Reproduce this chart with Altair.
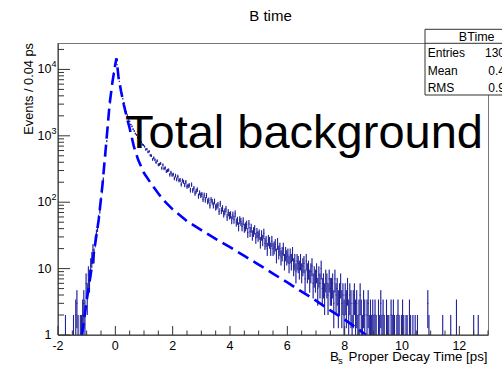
import math
import altair as alt
import pandas as pd

# ---------------- data ----------------
BIN_START = -2.0
BIN_WIDTH = 0.04   # "Events / 0.04 ps"

# bins centred -1.98 ... 0.98
counts_rise = [0, 0, 0, 0, 0, 0, 1, 0, 0, 0,
               0, 0, 0, 1, 0, 2, 3, 1, 0, 1,
               1, 2, 3, 2, 6, 4, 8, 7, 11, 14,
               19, 16, 26, 33, 42, 57, 76, 108, 148, 221,
               326, 514, 832, 1344, 2093, 3126, 4581, 6612, 8874, 11035,
               12580, 11764, 8391, 6624, 5287, 4431, 3612, 3135, 2617, 2311,
               2054, 1797, 1652, 1481, 1388, 1259, 1183, 1078, 1031, 941,
               902, 829, 803, 741, 724]

# bins centred 1.02 ... 10.98
counts_decay = [690, 622, 631, 570, 585, 509, 502, 441, 468, 436, 398, 421, 367, 372, 384, 326, 364, 322, 329, 292, 300, 305, 259, 281, 258,
                262, 229, 252, 221, 244, 214, 216, 186, 213, 203, 182, 202, 173, 176, 180, 152, 184, 151, 163, 137, 147, 155, 124, 139, 127,
                131, 111, 128, 109, 126, 103, 107, 90, 109, 102, 90, 103, 84, 87, 91, 73, 95, 75, 81, 67, 72, 79, 60, 70, 63,
                65, 54, 64, 55, 67, 50, 53, 43, 54, 51, 43, 52, 41, 43, 46, 35, 47, 36, 41, 32, 36, 39, 29, 35, 31,
                33, 25, 32, 27, 34, 24, 26, 20, 27, 25, 20, 26, 20, 21, 23, 16, 24, 18, 20, 15, 17, 20, 13, 17, 15,
                16, 12, 16, 13, 17, 11, 13, 9, 13, 12, 10, 13, 9, 11, 12, 7, 13, 9, 10, 7, 9, 11, 6, 8, 7,
                9, 5, 8, 6, 10, 5, 6, 4, 7, 6, 4, 7, 5, 5, 6, 3, 7, 4, 5, 3, 4, 6, 3, 4, 2,
                4, 3, 5, 2, 4, 3, 1, 3, 4, 2, 3, 1, 2, 4, 2, 1, 3, 2, 0, 2, 3, 1, 2, 1, 2,
                1, 2, 1, 0, 2, 1, 3, 1, 2, 1, 0, 2, 1, 1, 0, 2, 1, 2, 1, 0, 1, 2, 1, 0, 1,
                2, 1, 0, 1, 1, 0, 2, 1, 0, 1, 0, 1, 0, 1, 0, 0, 0, 0, 0, 0, 0, 0, 3, 1, 0]

# bins centred 11.02 ... 12.98
counts_tail = [0, 0, 0, 0, 0, 0, 0, 0, 0, 0,
               1, 0, 0, 0, 0, 0, 0, 1, 0, 0,
               0, 0, 2, 0, 0, 0, 0, 0, 0, 0,
               0, 0, 0, 0, 0, 0, 0, 1, 0, 0,
               0, 1, 0, 0, 0, 0, 0, 0, 0, 0]

# dashed fit curve (total background)
curve_t = [-1.16, -1.0, -0.87, -0.7, -0.58, -0.45, -0.32, -0.2, -0.1, 0.0, 0.04, 0.11, 0.2, 0.3,
           0.4, 0.5, 0.65, 0.8, 1.0, 1.25, 1.5, 1.75, 2.0, 2.5, 3.0, 3.5, 4.0, 4.5, 5.0, 5.5,
           6.0, 6.5, 7.0, 7.5, 8.0, 8.5, 8.75]
curve_y = [1.0, 3.3, 7.6, 24, 55, 180, 760, 3000, 6500, 12000, 14700, 7700, 4700, 2900,
           1900, 1300, 680, 430, 275, 190, 135, 100, 78, 52, 38, 28, 21, 15.5, 11.5, 8.4,
           6.2, 4.5, 3.3, 2.35, 1.7, 1.2, 1.0]

x_major = [-2, 0, 2, 4, 6, 8, 10, 12]
x_labels = ["-2", "0", "2", "4", "6", "8", "10", "12"]
x_minor = [-1.5, -1, -0.5, 0.5, 1, 1.5, 2.5, 3, 3.5, 4.5, 5, 5.5, 6.5, 7, 7.5,
           8.5, 9, 9.5, 10.5, 11, 11.5, 12.5, 13]
y_major = [1, 10, 100, 1000, 10000]
y_label_base = ["1", "10", "10", "10", "10"]
y_label_exp = ["", "", "2", "3", "4"]
y_minor = [m * 10 ** d for d in range(5) for m in range(2, 10) if m * 10 ** d <= 25000]

stat_names = ["Entries", "Mean", "RMS"]
stat_values = ["130412", "0.4361", "0.9287"]

# ---------------- tables ----------------
counts = counts_rise + counts_decay + counts_tail
rows = []
for i, n in enumerate(counts):
    if n > 0:
        c = BIN_START + BIN_WIDTH * (i + 0.5)
        s = math.sqrt(n)
        rows.append({"c": c, "xl": c - BIN_WIDTH / 2, "xr": c + BIN_WIDTH / 2,
                     "n": n, "lo": max(n - s, 0.5), "hi": n + s})
hist = pd.DataFrame(rows)
curve = pd.DataFrame({"t": curve_t, "y": curve_y})
xmaj = pd.DataFrame({"v": x_major, "lab": x_labels})
xmin = pd.DataFrame({"v": x_minor})
ymaj = pd.DataFrame({"v": y_major, "base": y_label_base, "exp": y_label_exp})
ymin = pd.DataFrame({"v": y_minor})
stats = pd.DataFrame({"name": stat_names, "val": stat_values, "row": [0, 1, 2]})
one = pd.DataFrame({"a": [0]})

W, H = 430, 292
FONT = "Liberation Sans"
xs = alt.Scale(domain=[-2, 13], nice=False, zero=False)
ys = alt.Scale(type="log", domain=[1, 25000], nice=False)
AX = "#333333"
LINE = "#1e1e96"


def X(f):
    return alt.X(f, type="quantitative", scale=xs, axis=None)


def Y(f):
    return alt.Y(f, type="quantitative", scale=ys, axis=None)


boxes = alt.Chart(hist).mark_rect(color="#5a5acc", opacity=0.4, clip=True).encode(
    x=X("xl"), x2="xr", y=Y("lo"), y2="hi")
bars = alt.Chart(hist).mark_rule(color=LINE, strokeWidth=1, clip=True).encode(
    x=X("c"), y=Y("lo"), y2="hi")
marks = alt.Chart(hist).mark_rule(color=LINE, strokeWidth=1, clip=True).encode(
    x=X("xl"), x2="xr", y=Y("n"))
fit = alt.Chart(curve).mark_line(color="#0000ff", strokeWidth=2.6, strokeDash=[12, 6],
                                 clip=True).encode(x=X("t"), y=Y("y"))

xt_major = alt.Chart(xmaj).mark_rule(color=AX).encode(
    x=X("v"), y=alt.value(H), y2=alt.value(H - 9))
xt_minor = alt.Chart(xmin).mark_rule(color=AX).encode(
    x=X("v"), y=alt.value(H), y2=alt.value(H - 4.5))
yt_major = alt.Chart(ymaj).mark_rule(color=AX).encode(
    y=Y("v"), x=alt.value(0), x2=alt.value(12))
yt_minor = alt.Chart(ymin).mark_rule(color=AX).encode(
    y=Y("v"), x=alt.value(0), x2=alt.value(6))
left_axis = alt.Chart(one).mark_rule(color=AX).encode(
    x=alt.value(0), y=alt.value(0), y2=alt.value(H))
bottom_axis = alt.Chart(one).mark_rule(color=AX).encode(
    x=alt.value(0), x2=alt.value(W), y=alt.value(H))

x_lab = alt.Chart(xmaj).mark_text(font=FONT, fontSize=12.5, align="center",
                                  baseline="alphabetic", color="black").encode(
    x=X("v"), y=alt.value(306.5), text="lab:N")
y_lab = alt.Chart(ymaj).mark_text(font=FONT, fontSize=12.5, align="right",
                                  baseline="middle", color="black").encode(
    y=Y("v"), x=alt.value(-6.5), text="base:N")
y_exp = alt.Chart(ymaj).mark_text(font=FONT, fontSize=9, align="left",
                                  baseline="middle", dy=-5, color="black").encode(
    y=Y("v"), x=alt.value(-6.5), text="exp:N")

title = alt.Chart(one).mark_text(text="B time", font=FONT, fontSize=15, align="center",
                                 baseline="alphabetic", color="black").encode(
    x=alt.value(212.5), y=alt.value(-22))
ytitle = alt.Chart(one).mark_text(text="Events / 0.04 ps", font=FONT, fontSize=12.8,
                                  angle=270, align="right", baseline="alphabetic",
                                  color="black").encode(x=alt.value(-25.3), y=alt.value(0))
xtitle_b = alt.Chart(one).mark_text(text="B", font=FONT, fontSize=13.3, align="left",
                                    baseline="alphabetic", color="black").encode(
    x=alt.value(272), y=alt.value(318))
xtitle_s = alt.Chart(one).mark_text(text="s", font=FONT, fontSize=9.5, align="left",
                                    baseline="alphabetic", color="black").encode(
    x=alt.value(280), y=alt.value(320.5))
xtitle_r = alt.Chart(one).mark_text(text="Proper Decay Time [ps]", font=FONT, fontSize=13.3,
                                    align="right", baseline="alphabetic",
                                    color="black").encode(x=alt.value(429.5), y=alt.value(318))

big = alt.Chart(one).mark_text(text="Total background", font=FONT, fontSize=47,
                               align="left", baseline="alphabetic", color="black").encode(
    x=alt.value(67), y=alt.value(105))

box = alt.Chart(one).mark_rect(fill="white", stroke=AX, strokeWidth=1).encode(
    x=alt.value(367), x2=alt.value(490), y=alt.value(-13.7), y2=alt.value(52))
box_line = alt.Chart(one).mark_rule(color=AX).encode(
    x=alt.value(367), x2=alt.value(490), y=alt.value(0.3))
box_head = alt.Chart(one).mark_text(text="BTime", font=FONT, fontSize=12.5, align="center",
                                    baseline="alphabetic", color="black").encode(
    x=alt.value(418.7), y=alt.value(-2.3))
row_scale = alt.Scale(domain=[0, 2], range=[14.3, 48.7], nice=False, zero=False)
stat_name = alt.Chart(stats).mark_text(font=FONT, fontSize=12, align="left",
                                       baseline="alphabetic", color="black").encode(
    x=alt.value(369.7),
    y=alt.Y("row:Q", scale=row_scale, axis=None),
    text="name:N")
stat_val = alt.Chart(stats).mark_text(font=FONT, fontSize=12, align="right",
                                      baseline="alphabetic", color="black").encode(
    x=alt.value(467),
    y=alt.Y("row:Q", scale=row_scale, axis=None),
    text="val:N")

chart = alt.layer(
    boxes, bars, marks, fit,
    xt_major, xt_minor, yt_major, yt_minor, left_axis, bottom_axis,
    x_lab, y_lab, y_exp, title, ytitle, xtitle_b, xtitle_s, xtitle_r,
    big, box, box_line, box_head, stat_name, stat_val
).resolve_scale(y="independent").properties(
    width=W, height=H,
    padding={"left": 58, "top": 43, "right": 14, "bottom": 33},
    autosize=alt.AutoSizeParams(type="none"),
    background="white",
).configure_view(stroke="#777777", strokeWidth=1)

chart.save("out.html", embed_options={"renderer": "svg", "actions": False})
